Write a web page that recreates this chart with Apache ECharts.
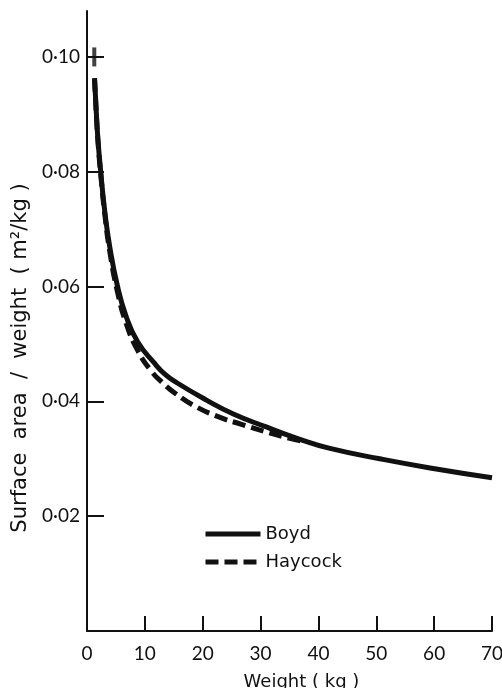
<!DOCTYPE html>
<html>
<head>
<meta charset="utf-8">
<script src="https://cdn.jsdelivr.net/npm/echarts@6/dist/echarts.min.js"></script>
<style>
  html, body { margin: 0; padding: 0; background: #fff; }
  #chart { width: 502px; height: 688px; }
</style>
</head>
<body>
<div id="chart"></div>
<script>
// weight (kg) vs surface area per weight (m2/kg)
const boydData = [
  [1.3, 0.0963], [1.6, 0.0905], [1.9, 0.0855], [2.37, 0.0800], [3.05, 0.0733],
  [3.92, 0.0670], [5.24, 0.0602], [6.8, 0.0547], [8.8, 0.0503], [11.7, 0.0466],
  [13.5, 0.0447], [15.6, 0.0432], [20.5, 0.0403], [25.3, 0.0378], [31.1, 0.0355],
  [36.8, 0.0334], [42, 0.0318], [50.6, 0.0300], [59.3, 0.0284], [70, 0.0267]
];
const haycockData = [
  [1.3, 0.0962], [1.6, 0.0903], [1.9, 0.0852], [2.37, 0.0796], [3.05, 0.0728],
  [3.92, 0.0662], [5.24, 0.0592], [6.8, 0.0535], [8.8, 0.0488], [11.1, 0.0453],
  [13.1, 0.0432], [15.4, 0.0413], [18.6, 0.0392], [23, 0.0372], [26.7, 0.0360],
  [30.5, 0.0348], [34.5, 0.0337], [37, 0.0331]
];
const startMark = [[1.26, 0.10]];

const xTicks = [10, 20, 30, 40, 50, 60, 70];
const xLabels = [0, 10, 20, 30, 40, 50, 60, 70];
const yTicks = [0.02, 0.04, 0.06, 0.08, 0.10];

const font = "Lato";
const wideFont = "DejaVu Sans";
const ink = "#111";

const chart = echarts.init(document.getElementById("chart"));

const option = {
  animation: false,
  backgroundColor: "#fff",
  grid: { left: 87, right: 10, top: 11, bottom: 57, outerBoundsMode: "none" },
  legend: {
    orient: "vertical",
    left: 198,
    top: 520,
    itemWidth: 55,
    itemHeight: 18,
    itemGap: 10,
    data: ["Boyd", "Haycock"],
    itemStyle: { opacity: 0 },
    lineStyle: { width: 5 },
    textStyle: { fontFamily: wideFont, fontSize: 18, lineHeight: 18, color: ink }
  },
  xAxis: {
    type: "value",
    min: 0,
    max: 70,
    interval: 10,
    name: "Weight ( kg )",
    nameLocation: "middle",
    nameGap: 42,
    nameTextStyle: { fontFamily: wideFont, fontSize: 18, color: ink, padding: [0, 0, 0, 24] },
    splitLine: { show: false },
    axisLine: { lineStyle: { color: ink, width: 2 } },
    axisTick: { inside: true, length: 15, customValues: xTicks, lineStyle: { color: ink, width: 2 } },
    axisLabel: { customValues: xLabels, margin: 13, fontFamily: font, fontSize: 19, color: ink }
  },
  yAxis: {
    type: "value",
    min: 0,
    max: 0.108,
    name: "Surface  area  /  weight  ( m\u00b2/kg )",
    nameLocation: "middle",
    nameGap: 43,
    nameTextStyle: { fontFamily: wideFont, fontSize: 21, color: ink, padding: [0, 74, 0, 0] },
    splitLine: { show: false },
    axisLine: { lineStyle: { color: ink, width: 2 } },
    axisTick: { inside: true, length: 17, customValues: yTicks, lineStyle: { color: ink, width: 2 } },
    axisLabel: {
      customValues: yTicks,
      margin: 7,
      fontFamily: font,
      fontSize: 19,
      color: ink,
      formatter: (v) => v.toFixed(2).replace(".", "\u00b7")
    }
  },
  series: [
    {
      name: "Boyd",
      type: "line",
      data: boydData,
      smooth: true,
      symbol: "none",
      color: ink,
      lineStyle: { color: ink, width: 5 }
    },
    {
      name: "Haycock",
      type: "line",
      data: haycockData,
      smooth: true,
      symbol: "none",
      color: ink,
      lineStyle: { color: ink, width: 5, type: [13, 6] }
    },
    {
      name: "start",
      type: "scatter",
      data: startMark,
      symbol: "rect",
      symbolSize: [4, 19],
      itemStyle: { color: ink }
    }
  ]
};

chart.setOption(option);
</script>
</body>
</html>
